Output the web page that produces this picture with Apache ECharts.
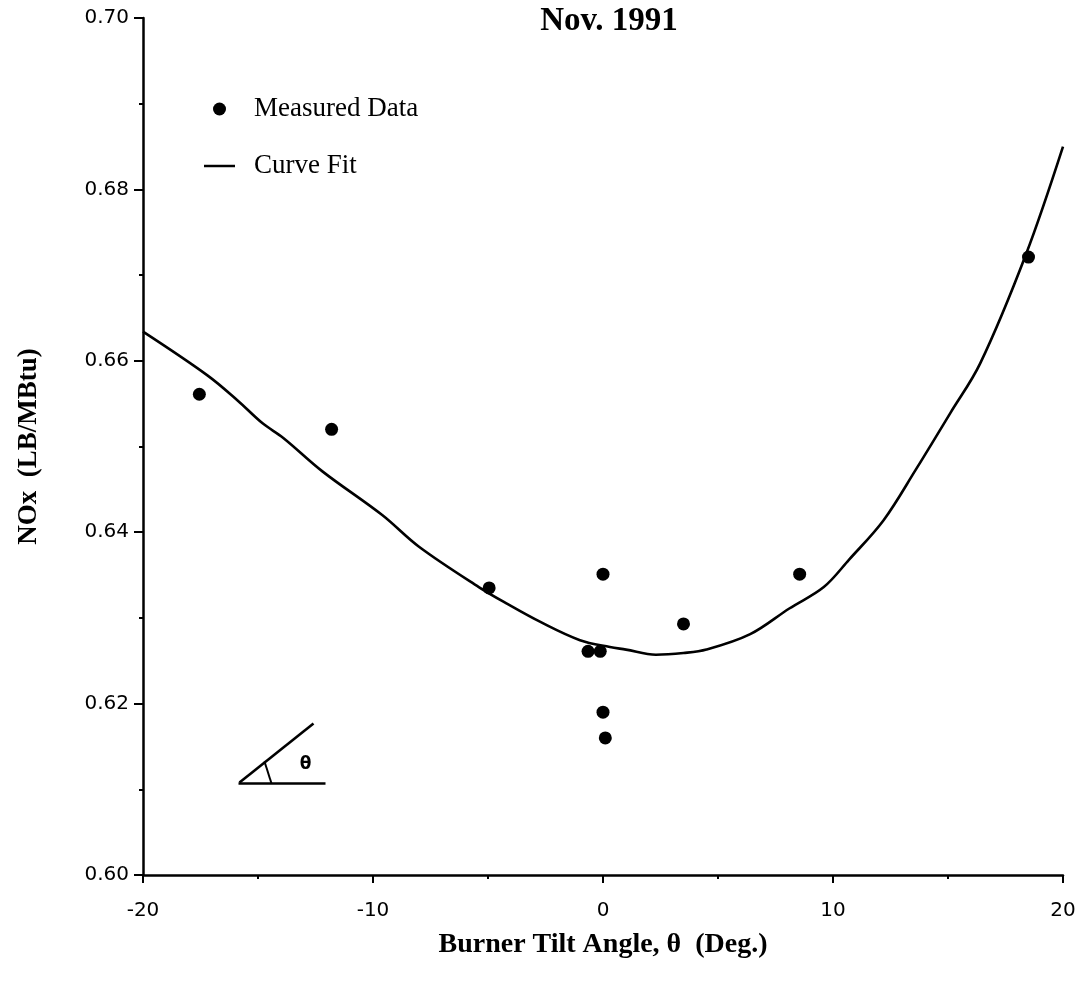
<!DOCTYPE html>
<html>
<head>
<meta charset="utf-8">
<title>NOx vs Burner Tilt Angle</title>
<script src="https://cdn.jsdelivr.net/npm/echarts@6/dist/echarts.min.js"></script>
<style>
  html, body { margin: 0; padding: 0; background: #fff; }
  #chart { width: 1086px; height: 989px; }
</style>
</head>
<body>
<div id="chart"></div>
<script>
// Measured NOx emissions (LB/MBtu) at each burner tilt angle (deg)
const measuredAngle = [-17.55, -11.8, -4.95, -0.65, -0.12, 0.0, 0.0, 0.1, 3.5, 8.55, 18.5];
const measuredNOx   = [0.6561, 0.6520, 0.6335, 0.6261, 0.6261, 0.6351, 0.6190, 0.6160, 0.6293, 0.6351, 0.6721];

// Fitted curve through the measurements
const fitAngle = [-20, -17.2, -15.9, -14.8, -13.9, -12.2, -9.6, -8.0, -5.4, -4.2, -2.7, -1.0, 0.3, 1.0, 2.3, 3.5, 4.5, 6.4, 8.1, 9.6, 10.7, 12.2, 13.6, 15.1, 16.4, 18.4, 20];
const fitNOx   = [0.6634, 0.6583, 0.6554, 0.6527, 0.6510, 0.6471, 0.6420, 0.6383, 0.6336, 0.6317, 0.6295, 0.6274, 0.6266, 0.6263, 0.6257, 0.6259, 0.6263, 0.6281, 0.6311, 0.6336, 0.6368, 0.6414, 0.6473, 0.6539, 0.6597, 0.6725, 0.6850];

// Axis ranges and tick spacing
const xRange = { min: -20, max: 20, step: 10 };
const yRange = { min: 0.60, max: 0.70, step: 0.02 };

const titleText = 'Nov. 1991';
const xTitle = 'Burner Tilt Angle, \u03b8  (Deg.)';
const yTitle = 'NOx  (LB/MBtu)';
const seriesNames = ['Measured Data', 'Curve Fit'];

const serif = '"Liberation Serif", "Times New Roman", serif';
const sans = '"DejaVu Sans", Arial, sans-serif';

const chart = echarts.init(document.getElementById('chart'), null, { renderer: 'canvas' });

chart.setOption({
  backgroundColor: '#ffffff',
  animation: false,
  title: {
    text: titleText,
    left: 604,
    top: 0,
    textAlign: 'center',
    textStyle: { fontFamily: serif, fontWeight: 'bold', fontSize: 33, color: '#000' }
  },
  legend: {
    orient: 'vertical',
    left: 199,
    top: 88,
    itemWidth: 31,
    itemHeight: 13,
    itemGap: 25,
    textStyle: { fontFamily: serif, fontSize: 27, color: '#000', padding: [0, 0, 0, 14], lineHeight: 32 },
    data: [
      { name: seriesNames[0], icon: 'circle', itemStyle: { color: '#000', opacity: 1 } },
      // plain stroke for the fitted curve
      { name: seriesNames[1], icon: 'path://M0,0H100V8H0Z', itemStyle: { color: '#000', opacity: 1 } }
    ]
  },
  grid: { left: 143, right: 23, top: 18, bottom: 114, containLabel: false },
  xAxis: {
    type: 'value',
    min: xRange.min,
    max: xRange.max,
    interval: xRange.step,
    name: xTitle,
    nameLocation: 'middle',
    nameGap: 56,
    nameTextStyle: { fontFamily: serif, fontWeight: 'bold', fontSize: 28, color: '#000' },
    axisLine: { show: true, onZero: false, lineStyle: { color: '#000', width: 2.5 } },
    axisTick: { show: true, inside: false, length: 8, lineStyle: { color: '#000', width: 2 } },
    minorTick: { show: true, splitNumber: 2, length: 4, lineStyle: { color: '#000', width: 2 } },
    axisLabel: { fontFamily: sans, fontSize: 20, color: '#000', margin: 26 },
    splitLine: { show: false }
  },
  yAxis: {
    type: 'value',
    min: yRange.min,
    max: yRange.max,
    interval: yRange.step,
    name: yTitle,
    nameLocation: 'middle',
    nameRotate: 90,
    nameGap: 100,
    nameTextStyle: { fontFamily: serif, fontWeight: 'bold', fontSize: 27, color: '#000' },
    axisLine: { show: true, onZero: false, lineStyle: { color: '#000', width: 2.5 } },
    axisTick: { show: true, inside: false, length: 9, lineStyle: { color: '#000', width: 2 } },
    minorTick: { show: true, splitNumber: 2, length: 4, lineStyle: { color: '#000', width: 2 } },
    axisLabel: {
      fontFamily: sans, fontSize: 20, color: '#000', margin: 14,
      formatter: v => v.toFixed(2)
    },
    splitLine: { show: false }
  },
  series: [
    {
      name: seriesNames[0],
      type: 'scatter',
      symbol: 'circle',
      symbolSize: 13,
      itemStyle: { color: '#000', opacity: 1 },
      data: measuredAngle.map((a, i) => [a, measuredNOx[i]]),
      z: 3
    },
    {
      name: seriesNames[1],
      type: 'line',
      smooth: 0.35,
      symbol: 'none',
      lineStyle: { color: '#000', width: 2.6 },
      itemStyle: { color: '#000' },
      data: fitAngle.map((a, i) => [a, fitNOx[i]]),
      z: 2
    }
  ],
  // Small sketch defining the tilt angle theta
  graphic: [
    {
      type: 'group',
      left: 236,
      top: 721,
      children: [
        { type: 'line', shape: { x1: 1, y1: 61, x2: 88, y2: 61 }, style: { stroke: '#000', lineWidth: 2.6 } },
        { type: 'line', shape: { x1: 2, y1: 60, x2: 76, y2: 1 }, style: { stroke: '#000', lineWidth: 2.6 } },
        { type: 'line', shape: { x1: 27, y1: 39, x2: 34, y2: 61 }, style: { stroke: '#000', lineWidth: 2 } },
        { type: 'text', style: { text: '\u03b8', x: 68, y: 42, font: 'bold 17px "DejaVu Sans", sans-serif', fill: '#000', textAlign: 'center', textVerticalAlign: 'middle' } }
      ]
    }
  ]
});
</script>
</body>
</html>
